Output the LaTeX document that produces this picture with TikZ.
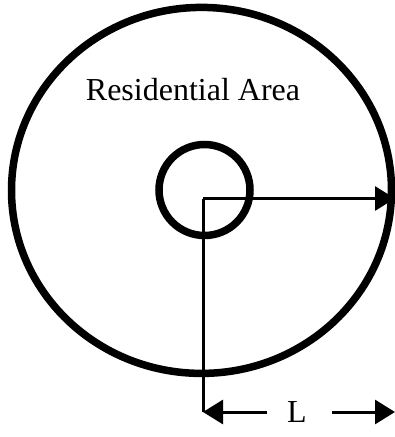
\documentclass[tikz,border=0pt]{standalone}
\usepackage{fontspec}
\setmainfont{Liberation Serif}
\usetikzlibrary{arrows.meta}
\begin{document}
\begin{tikzpicture}[x=1pt,y=-1pt,
  ring/.style={line width=7.5pt},
  dim/.style={line width=3pt,-{Triangle[length=20pt,width=24pt]}},
  lbl/.style={font=\fontsize{32}{38}\selectfont,inner sep=0pt}]
\useasboundingbox (0,0) rectangle (395,437);
\draw[ring] (201.5,190.4) ellipse [x radius=190, y radius=183];
\draw[ring] (204.5,190) circle [radius=45.5];
\coordinate (c) at (203,198.5);
\coordinate (r) at (395,198.5);
\coordinate (b) at (203,412);
\coordinate (bl) at (267,412);
\coordinate (br) at (332,412);
\coordinate (be) at (395,412);
\draw[line width=3pt] (c) -- (b);
\draw[dim] (c) -- (r);
\draw[dim] (bl) -- (b);
\draw[dim] (br) -- (be);
\node[lbl] (res) at (193,90) {Residential Area};
\node[lbl] (L) at (297,412) {L};
\end{tikzpicture}
\end{document}
